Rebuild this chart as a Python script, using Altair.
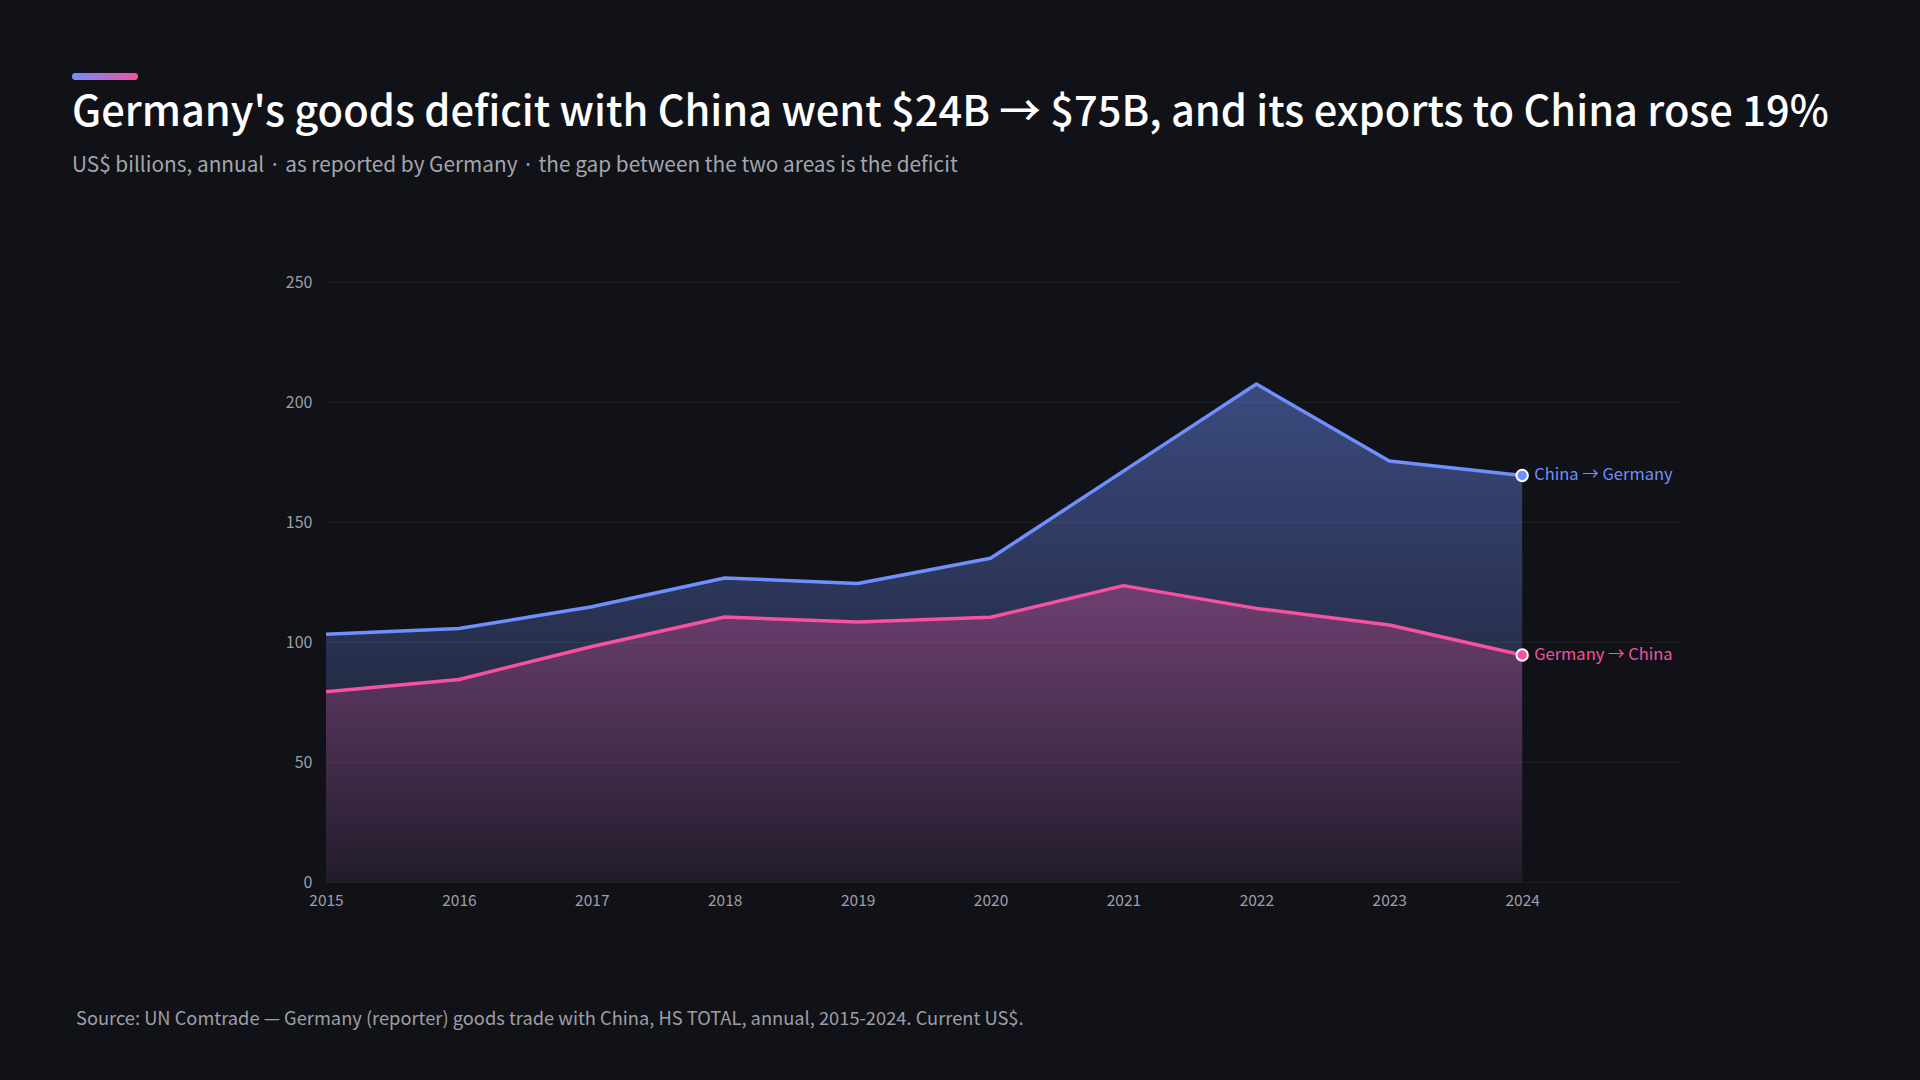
import altair as alt
import pandas as pd

years = list(range(2015, 2025))
china_to_germany = [103.2, 105.6, 114.7, 126.7, 124.4, 134.9, 171.2, 207.5, 175.4, 169.4]
germany_to_china = [79.3, 84.4, 98.1, 110.4, 108.3, 110.3, 123.5, 114.0, 107.1, 94.6]
series_names = ["China → Germany", "Germany → China"]
series_colors = ["#6f8ffd", "#f7519f"]
label_colors = ["#7b9bff", "#ff5aa8"]
y_ticks = [0, 50, 100, 150, 200, 250]

title_text = "Germany's goods deficit with China went $24B → $75B, and its exports to China rose 19%"
subtitle_text = "US$ billions, annual · as reported by Germany · the gap between the two areas is the deficit"
source_text = "Source: UN Comtrade — Germany (reporter) goods trade with China, HS TOTAL, annual, 2015-2024. Current US$."

rows = []
for i, yr in enumerate(years):
    rows.append({"year": yr, "series": series_names[0], "value": china_to_germany[i]})
    rows.append({"year": yr, "series": series_names[1], "value": germany_to_china[i]})
df = pd.DataFrame(rows)

FONT = "Noto Sans CJK KR"
BG = "#111217"
PL, PT, PW, PH = 326, 282, 1353, 600

x_enc = alt.X(
    "year:Q",
    scale=alt.Scale(domain=[2015, 2025.18], nice=False, zero=False),
    axis=alt.Axis(values=years, format="d", title=None, grid=False, domain=False, ticks=False,
                  labelColor="#9c9fa7", labelFontSize=15.5, labelPadding=11, labelFont=FONT,
                  labelFlush=False),
)
y_enc = alt.Y(
    "value:Q",
    scale=alt.Scale(domain=[0, 250], nice=False),
    axis=alt.Axis(values=y_ticks, title=None, domain=False, ticks=False,
                  gridColor="#1e2026", gridWidth=1, labelColor="#9c9fa7",
                  labelFontSize=16, labelPadding=14, labelFont=FONT),
)
color_enc = alt.Color("series:N", scale=alt.Scale(domain=series_names, range=series_colors), legend=None)


def grad(rgb, o_top, o_bot):
    return alt.Gradient(
        gradient="linear", x1=0, y1=0, x2=0, y2=1,
        stops=[alt.GradientStop(offset=0, color=f"rgba({rgb},{o_top})"),
               alt.GradientStop(offset=1, color=f"rgba({rgb},{o_bot})")],
    )


base = alt.Chart(df)

area_blue = base.transform_filter(alt.datum.series == series_names[0]).mark_area(
    fill=grad("111,143,253", 0.45, 0.05)
).encode(x=x_enc, y=y_enc)
area_pink = base.transform_filter(alt.datum.series == series_names[1]).mark_area(
    fill=grad("247,81,159", 0.32, 0.05)
).encode(x=x_enc, y=y_enc)

lines = base.mark_line(strokeWidth=3.5, strokeJoin="round").encode(x=x_enc, y=y_enc, color=color_enc)

last = base.transform_filter(alt.datum.year == years[-1])
points = last.mark_circle(size=130, stroke="white", strokeWidth=2, opacity=1).encode(
    x=x_enc, y=y_enc, color=color_enc)
labels = last.mark_text(align="left", baseline="middle", dx=12, fontSize=16.5, font=FONT).encode(
    x=x_enc, y=y_enc, text="series:N",
    color=alt.Color("series:N", scale=alt.Scale(domain=series_names, range=label_colors), legend=None))

one = alt.Data(values=[{"k": 1}])
accent = alt.Chart(one).mark_rect(
    cornerRadius=3,
    fill=alt.Gradient(gradient="linear", x1=0, y1=0, x2=1, y2=0,
                      stops=[alt.GradientStop(offset=0, color="#6f8ffd"),
                             alt.GradientStop(offset=1, color="#f7519f")]),
).encode(x=alt.value(72 - PL), x2=alt.value(138 - PL), y=alt.value(73 - PT), y2=alt.value(80 - PT))

title = alt.Chart(one).mark_text(
    align="left", baseline="alphabetic", fontSize=41.6, fontWeight=500, font=FONT, color="#ffffff"
).encode(x=alt.value(72 - PL), y=alt.value(126 - PT), text=alt.value(title_text))
subtitle = alt.Chart(one).mark_text(
    align="left", baseline="alphabetic", fontSize=20.8, font=FONT, color="#a3a6ae"
).encode(x=alt.value(72 - PL), y=alt.value(172 - PT), text=alt.value(subtitle_text))
source = alt.Chart(one).mark_text(
    align="left", baseline="alphabetic", fontSize=18.3, font=FONT, color="#9c9fa7"
).encode(x=alt.value(76 - PL), y=alt.value(1025 - PT), text=alt.value(source_text))

chart = alt.layer(area_blue, area_pink, lines, points, labels, accent, title, subtitle, source).properties(
    width=PW, height=PH,
    padding={"left": PL, "top": PT, "right": 1920 - PL - PW, "bottom": 1080 - PT - PH},
    autosize=alt.AutoSizeParams(type="none"),
    background=BG,
).configure_view(stroke=None)

chart.save("out.html", embed_options={"renderer": "svg", "actions": False})
